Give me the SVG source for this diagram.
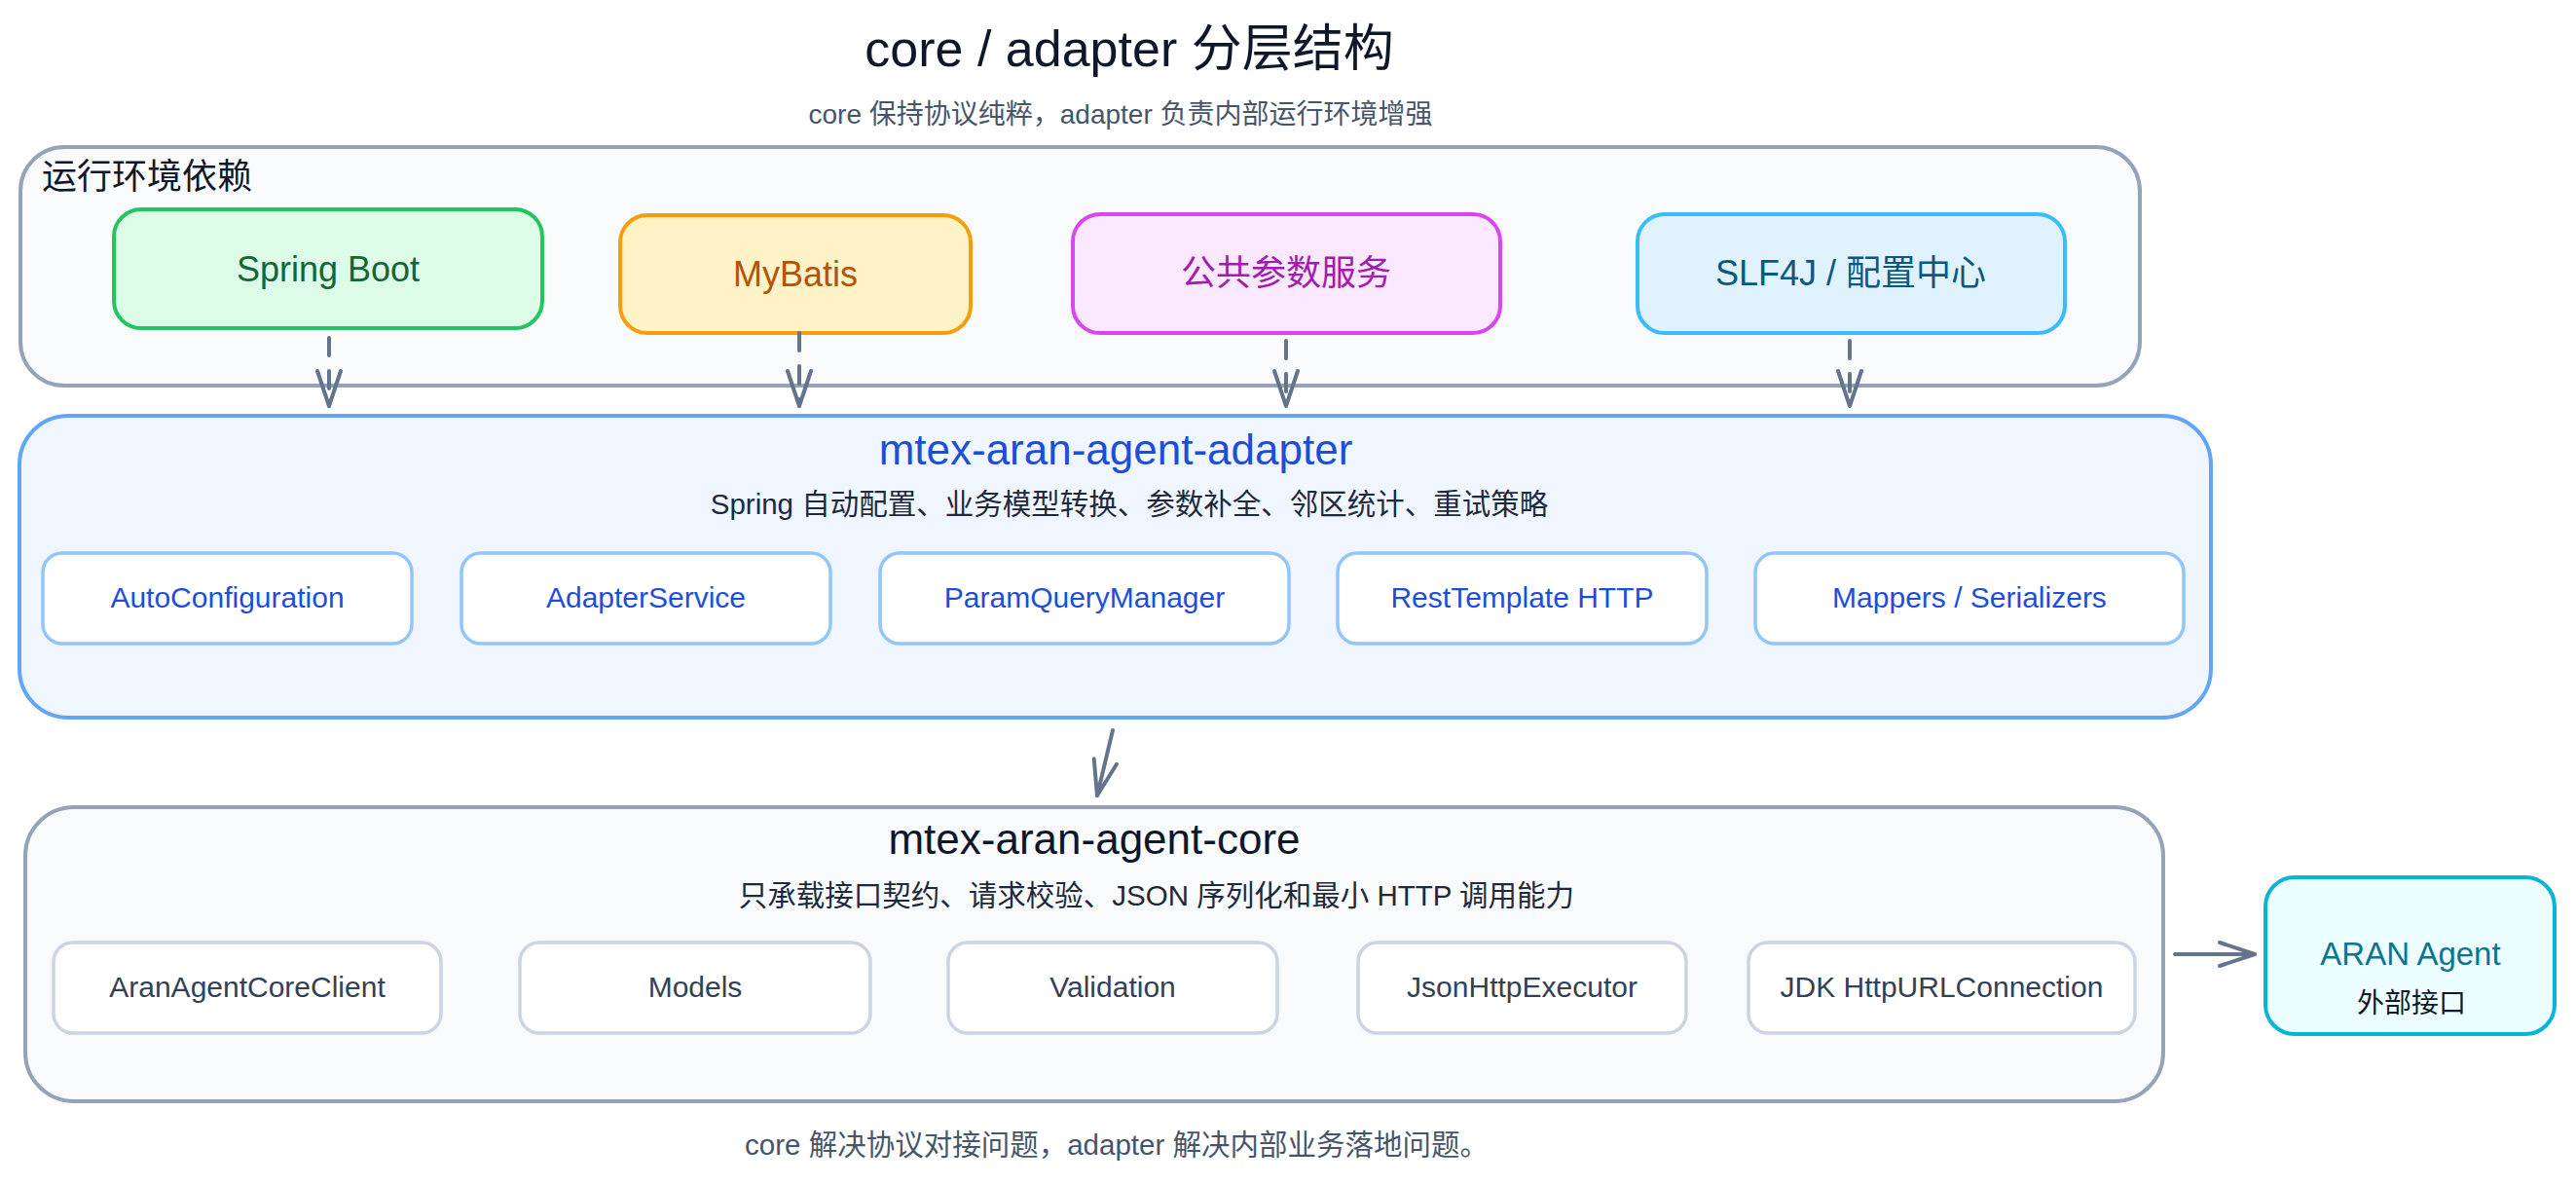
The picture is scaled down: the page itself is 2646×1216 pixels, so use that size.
<svg xmlns="http://www.w3.org/2000/svg" width="2646" height="1216" viewBox="0 0 2646 1216">
<defs>
<style>
text{font-family:"Liberation Sans","Noto Sans CJK SC",sans-serif;}
.title{font-size:52px;fill:#0f172a;text-anchor:middle;}
.sub{font-size:28px;fill:#475569;text-anchor:middle;}
.foot{font-size:29.5px;fill:#475569;text-anchor:middle;}
.env{fill:#f8fafc;stroke:#94a3b8;stroke-width:4;}
.adapter{fill:#eff6ff;stroke:#60a5fa;stroke-width:4;}
.core{fill:#f8fafc;stroke:#94a3b8;stroke-width:4;}
.dep-t{font-size:36px;text-anchor:middle;}
.ltitle{font-size:44px;text-anchor:middle;}
.lsub{font-size:29.5px;fill:#1e293b;text-anchor:middle;}
.abox{fill:#ffffff;stroke:#93c5fd;stroke-width:3.5;}
.at{font-size:30px;fill:#1d4ed8;text-anchor:middle;}
.cbox{fill:#ffffff;stroke:#cbd5e1;stroke-width:3.5;}
.ct{font-size:30px;fill:#334155;text-anchor:middle;}
.conn{fill:none;stroke:#64748b;stroke-width:4;stroke-linecap:round;}
.dash{stroke-dasharray:18 16;}
</style>
<marker id="arr" markerUnits="userSpaceOnUse" viewBox="-45 -25 50 50" refX="0" refY="0" markerWidth="50" markerHeight="50" orient="auto">
<path d="M -36 -12 L 0 0 L -36 12" fill="none" stroke="#64748b" stroke-width="4" stroke-linecap="round" stroke-linejoin="round"/>
</marker>
</defs>
<rect x="0" y="0" width="2646" height="1216" fill="#ffffff"/>

<g id="header">
<text class="title" x="1160" y="68">core / adapter 分层结构</text>
<text class="sub" x="1151" y="127">core 保持协议纯粹，adapter 负责内部运行环境增强</text>
</g>

<g id="runtime-env">
<rect class="env" x="21" y="151" width="2177" height="245" rx="45"/>
<text x="43" y="194" font-size="36" fill="#0f172a">运行环境依赖</text>
</g>

<g id="spring-boot">
<rect x="117" y="215" width="440" height="122" rx="28" fill="#dcfce7" stroke="#22c55e" stroke-width="4"/>
<text class="dep-t" x="337" y="289" fill="#166534">Spring Boot</text>
</g>
<g id="mybatis">
<rect x="637" y="221" width="360" height="121" rx="28" fill="#fef3c7" stroke="#f59e0b" stroke-width="4"/>
<text class="dep-t" x="817" y="294" fill="#b45309">MyBatis</text>
</g>
<g id="param-service">
<rect x="1102" y="220" width="439" height="122" rx="28" fill="#fae8ff" stroke="#d946ef" stroke-width="4"/>
<text class="dep-t" x="1321" y="293" fill="#a21caf">公共参数服务</text>
</g>
<g id="slf4j-config">
<rect x="1682" y="220" width="439" height="122" rx="28" fill="#e0f2fe" stroke="#38bdf8" stroke-width="4"/>
<text class="dep-t" x="1901" y="293" fill="#075985">SLF4J / 配置中心</text>
</g>

<g id="adapter-layer">
<rect class="adapter" x="20" y="427" width="2251" height="310" rx="50"/>
<text class="ltitle" x="1146" y="477" fill="#1d4ed8">mtex-aran-agent-adapter</text>
<text class="lsub" x="1160" y="528">Spring 自动配置、业务模型转换、参数补全、邻区统计、重试策略</text>
</g>
<g id="auto-configuration">
<rect class="abox" x="44" y="568" width="379" height="93" rx="20"/>
<text class="at" x="233.5" y="624">AutoConfiguration</text>
</g>
<g id="adapter-service">
<rect class="abox" x="474" y="568" width="379" height="93" rx="20"/>
<text class="at" x="663.5" y="624">AdapterService</text>
</g>
<g id="param-query-manager">
<rect class="abox" x="904" y="568" width="420" height="93" rx="20"/>
<text class="at" x="1114" y="624">ParamQueryManager</text>
</g>
<g id="rest-template">
<rect class="abox" x="1374" y="568" width="379" height="93" rx="20"/>
<text class="at" x="1563.5" y="624">RestTemplate HTTP</text>
</g>
<g id="mappers">
<rect class="abox" x="1803" y="568" width="440" height="93" rx="20"/>
<text class="at" x="2023" y="624">Mappers / Serializers</text>
</g>

<g id="core-layer">
<rect class="core" x="26" y="829" width="2196" height="302" rx="50"/>
<text class="ltitle" x="1124" y="877" fill="#0f172a">mtex-aran-agent-core</text>
<text class="lsub" x="1188" y="930">只承载接口契约、请求校验、JSON 序列化和最小 HTTP 调用能力</text>
</g>
<g id="core-client">
<rect class="cbox" x="55" y="968" width="398" height="93" rx="20"/>
<text class="ct" x="254" y="1024">AranAgentCoreClient</text>
</g>
<g id="models">
<rect class="cbox" x="534" y="968" width="360" height="93" rx="20"/>
<text class="ct" x="714" y="1024">Models</text>
</g>
<g id="validation">
<rect class="cbox" x="974" y="968" width="338" height="93" rx="20"/>
<text class="ct" x="1143" y="1024">Validation</text>
</g>
<g id="json-http-executor">
<rect class="cbox" x="1395" y="968" width="337" height="93" rx="20"/>
<text class="ct" x="1563.5" y="1024">JsonHttpExecutor</text>
</g>
<g id="jdk-http">
<rect class="cbox" x="1796" y="968" width="397" height="93" rx="20"/>
<text class="ct" x="1994.5" y="1024">JDK HttpURLConnection</text>
</g>

<g id="aran-agent">
<rect x="2327" y="901" width="297" height="161" rx="30" fill="#ecfeff" stroke="#06b6d4" stroke-width="4"/>
<text x="2476" y="991" font-size="33" fill="#0e7490" text-anchor="middle">ARAN Agent</text>
<text x="2477" y="1040" font-size="28" fill="#0f172a" text-anchor="middle">外部接口</text>
</g>

<g id="footer">
<text class="foot" x="1147" y="1186">core 解决协议对接问题，adapter 解决内部业务落地问题。</text>
</g>

<g id="connectors">
<path class="conn dash" d="M 338 347 L 338 417" marker-end="url(#arr)"/>
<path class="conn dash" d="M 821 342 L 821 417" marker-end="url(#arr)"/>
<path class="conn dash" d="M 1321 350 L 1321 417" marker-end="url(#arr)"/>
<path class="conn dash" d="M 1900 350 L 1900 417" marker-end="url(#arr)"/>
<path class="conn" d="M 1143 750 L 1127 817" marker-end="url(#arr)"/>
<path class="conn" d="M 2234 980 L 2316 980" marker-end="url(#arr)"/>
</g>
</svg>
